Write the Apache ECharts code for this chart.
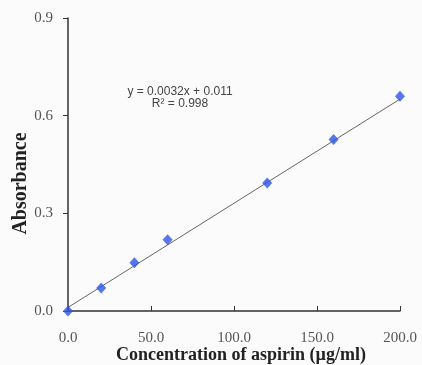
<!DOCTYPE html>
<html>
<head>
<meta charset="utf-8">
<script src="https://cdn.jsdelivr.net/npm/echarts@6/dist/echarts.min.js"></script>
<style>
  html, body { margin: 0; padding: 0; background: #fbfbfb; }
  #main { width: 422px; height: 365px; }
</style>
</head>
<body>
<div id="main"></div>
<script>
// concentration (µg/ml) and absorbance
const concentration = [0, 20, 40, 60, 120, 160, 200];
const absorbance = [0, 0.071, 0.148, 0.219, 0.393, 0.527, 0.66];
// linear trendline y = 0.0032x + 0.011
const trendX = [0, 200];
const trendY = [0.011, 0.651];
const equationText = ['y = 0.0032x + 0.011', 'R² = 0.998'];

const chart = echarts.init(document.getElementById('main'));
chart.setOption({
  backgroundColor: '#fbfbfb',
  animation: false,
  grid: { left: 68, right: 22, top: 18, bottom: 54, outerBoundsMode: 'none' },
  xAxis: {
    type: 'value',
    min: 0, max: 200, interval: 50,
    name: 'Concentration of aspirin (µg/ml)',
    nameLocation: 'middle',
    nameGap: 35,
    nameMoveOverlap: false,
    nameTextStyle: { fontFamily: 'Liberation Serif', fontWeight: 'bold', fontSize: 18, color: '#222', padding: [0, 0, 0, 14] },
    axisLine: { lineStyle: { color: '#333', width: 1.5 } },
    axisTick: { inside: true, length: 5, lineStyle: { color: '#333' } },
    axisLabel: {
      fontFamily: 'Liberation Serif', fontSize: 15, color: '#555', margin: 20,
      formatter: v => v.toFixed(1)
    },
    splitLine: { show: false }
  },
  yAxis: {
    type: 'value',
    min: 0, max: 0.9, interval: 0.3,
    name: 'Absorbance',
    nameLocation: 'middle',
    nameGap: 37,
    nameMoveOverlap: false,
    nameTextStyle: { fontFamily: 'Liberation Serif', fontWeight: 'bold', fontSize: 20, color: '#222', padding: [0, 38, 0, 0] },
    axisLine: { show: true, lineStyle: { color: '#333', width: 1.5 } },
    axisTick: { show: true, length: 5, lineStyle: { color: '#333' } },
    axisLabel: {
      fontFamily: 'Liberation Serif', fontSize: 15, color: '#555', margin: 15,
      formatter: v => v.toFixed(1)
    },
    splitLine: { show: false }
  },
  graphic: [{
    type: 'text',
    x: 180, y: 86,
    style: {
      text: equationText.join('\n'),
      fontFamily: 'Liberation Sans', fontSize: 12, fill: '#444',
      align: 'center', lineHeight: 12
    }
  }],
  series: [
    {
      type: 'line',
      data: trendX.map((x, i) => [x, trendY[i]]),
      symbol: 'none',
      lineStyle: { color: '#666', width: 1 },
      z: 1
    },
    {
      type: 'scatter',
      data: concentration.map((x, i) => [x, absorbance[i]]),
      symbol: 'diamond',
      symbolSize: [10, 11],
      itemStyle: { color: '#2f55e8' },
      z: 3
    }
  ]
});
</script>
</body>
</html>
